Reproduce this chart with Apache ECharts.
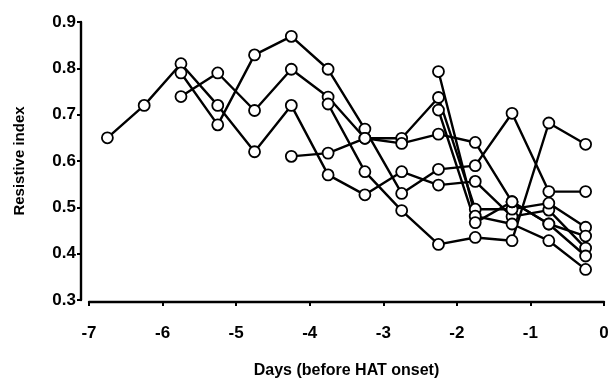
<!DOCTYPE html>
<html>
<head>
<meta charset="utf-8">
<script src="https://cdn.jsdelivr.net/npm/echarts@6/dist/echarts.min.js"></script>
<style>
  html, body { margin: 0; padding: 0; background: #fff; }
  #chart { width: 615px; height: 390px; }
</style>
</head>
<body>
<div id="chart"></div>
<script>
// measurement days (half-day positions before HAT onset)
const days = [-6.75, -6.25, -5.75, -5.25, -4.75, -4.25, -3.75, -3.25, -2.75, -2.25, -1.75, -1.25, -0.75, -0.25];

// resistive index per patient, null = no measurement
const patient1 = [0.65, 0.72, 0.81, 0.72, 0.62, 0.72, 0.57, 0.527, 0.577, 0.548, 0.556, 0.48, 0.494, 0.412];
const patient2 = [null, null, 0.79, 0.678, 0.829, 0.869, 0.798, 0.669, 0.53, 0.582, 0.59, 0.703, 0.534, 0.534];
const patient3 = [null, null, 0.739, 0.79, 0.709, 0.798, 0.738, 0.649, 0.649, 0.737, 0.496, 0.496, 0.509, 0.457];
const patient4 = [null, null, null, null, null, 0.61, 0.617, 0.649, 0.638, 0.658, 0.64, 0.512, 0.464, 0.395];
const patient5 = [null, null, null, null, null, null, 0.723, 0.577, 0.493, 0.42, 0.435, 0.428, 0.682, 0.636];
const patient6 = [null, null, null, null, null, null, null, null, null, 0.793, 0.481, 0.464, 0.428, 0.366];
const patient7 = [null, null, null, null, null, null, null, null, null, 0.71, 0.467, 0.512, 0.464, 0.438];

const patients = [patient1, patient2, patient3, patient4, patient5, patient6, patient7];

const yTicks = { min: 0.3, max: 0.9, interval: 0.1 };
const xTicks = { min: -7, max: 0, interval: 1 };

const chart = echarts.init(document.getElementById('chart'));

const font = 'Liberation Sans, Arial, Helvetica, sans-serif';

const series = patients.map((p, i) => ({
  name: 'Patient ' + (i + 1),
  type: 'line',
  data: days.map((d, j) => [d, p[j]]),
  connectNulls: true,
  symbol: 'circle',
  symbolSize: 11,
  lineStyle: { color: '#000', width: 2.4 },
  itemStyle: { color: '#fff', borderColor: '#000', borderWidth: 1.8 },
  animation: false,
  z: 2
}));

const option = {
  backgroundColor: '#fff',
  grid: { left: 89, right: 11, top: 22, bottom: 90 },
  xAxis: {
    type: 'value',
    min: xTicks.min,
    max: xTicks.max,
    interval: xTicks.interval,
    offset: 2,
    name: 'Days (before HAT onset)',
    nameLocation: 'middle',
    nameGap: 61,
    nameTextStyle: { color: '#000', fontSize: 16, fontWeight: 'bold', fontFamily: font },
    axisLine: { onZero: false, lineStyle: { color: '#000', width: 2.4 } },
    axisTick: { length: 4, lineStyle: { color: '#000', width: 2 } },
    axisLabel: { color: '#000', fontSize: 17, fontWeight: 'bold', fontFamily: font, margin: 23 },
    splitLine: { show: false }
  },
  yAxis: {
    type: 'value',
    min: yTicks.min,
    max: yTicks.max,
    interval: yTicks.interval,
    offset: 8,
    name: 'Resistive index',
    nameLocation: 'middle',
    nameGap: 54,
    nameTextStyle: { color: '#000', fontSize: 15, fontWeight: 'bold', fontFamily: font },
    axisLine: { show: true, onZero: false, lineStyle: { color: '#000', width: 2.4 } },
    axisTick: { show: true, length: 4, lineStyle: { color: '#000', width: 2 } },
    axisLabel: { color: '#000', fontSize: 17, fontWeight: 'bold', fontFamily: font, margin: 5,
      formatter: v => v.toFixed(1) },
    splitLine: { show: false }
  },
  series: series
};

chart.setOption(option);
</script>
</body>
</html>
